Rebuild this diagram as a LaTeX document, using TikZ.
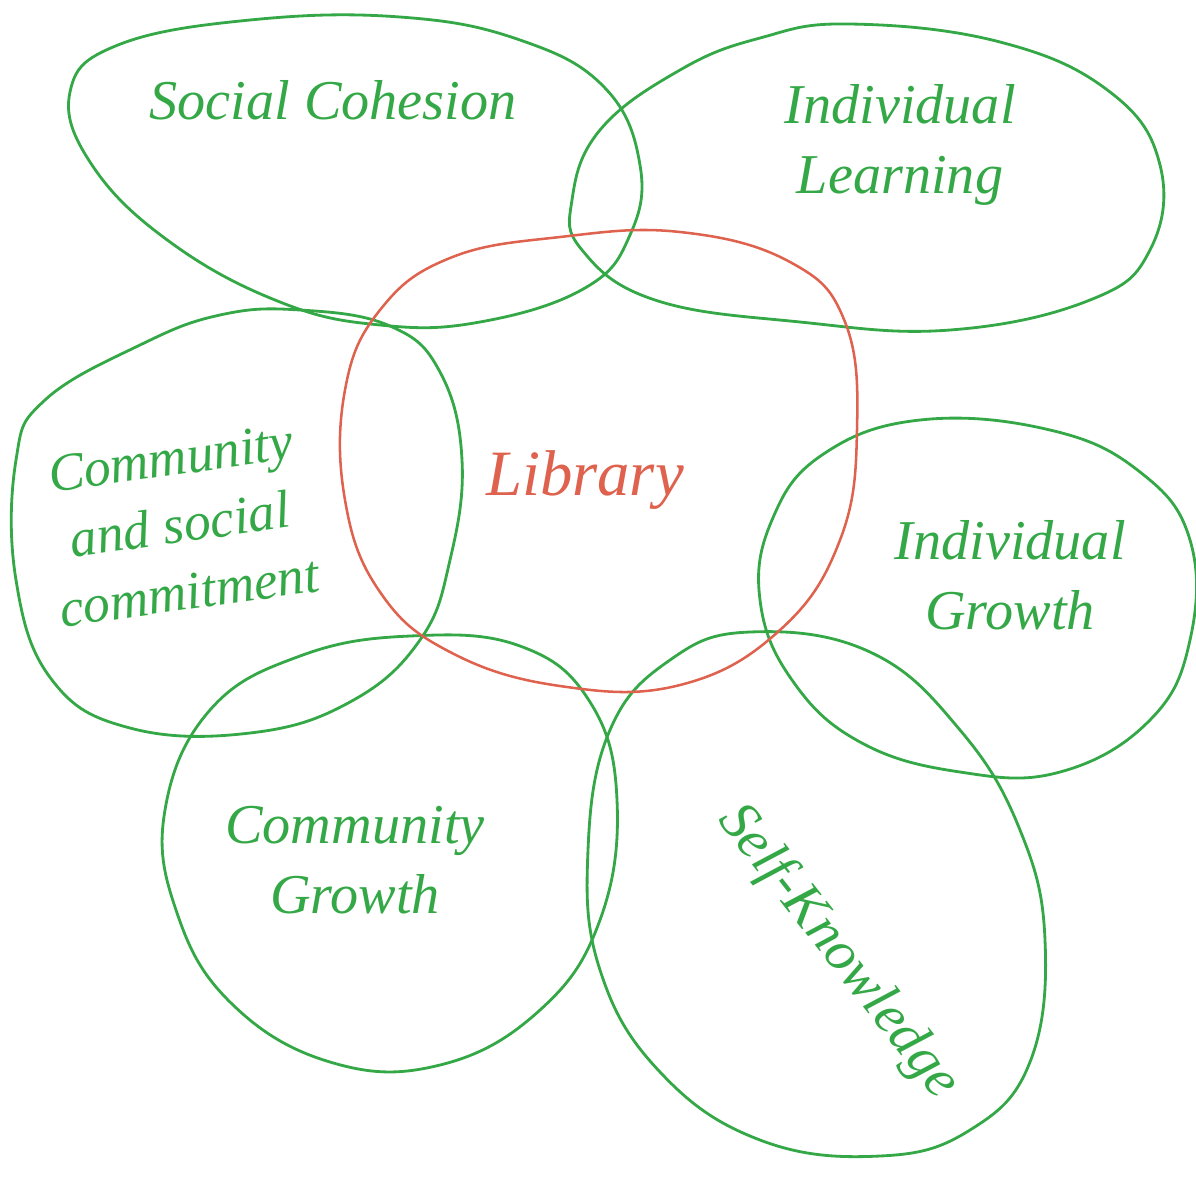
\documentclass[tikz,border=0pt]{standalone}
\usepackage{fontspec}
\setmainfont{Liberation Serif}
\definecolor{pen}{RGB}{52,168,70}
\definecolor{redpen}{RGB}{222,98,78}
\tikzset{
  blob/.style={draw=pen, line width=2pt, line join=round},
  redblob/.style={draw=redpen, line width=1.8pt, line join=round},
  lbl/.style={text=pen, font=\fontsize{40}{50}\selectfont\itshape, align=center, inner sep=0pt},
  smalllbl/.style={text=pen, font=\fontsize{38}{48}\selectfont\itshape, align=center, inner sep=0pt},
}
\begin{document}
\begin{tikzpicture}[x=0.025cm, y=-0.025cm]
\useasboundingbox (0,0) rectangle (1196,1186);
% Social Cohesion
\draw[blob] plot[smooth cycle, tension=0.7] coordinates {(400,17) (520,40) (605,88) (640,165) (630,235) (585,288) (480,322) (380,325) (280,302) (170,242) (92,165) (70,92) (118,45) (250,20)};
% Individual Learning
\draw[blob] plot[smooth cycle, tension=0.7] coordinates {(850,24) (1000,42) (1110,92) (1160,165) (1150,250) (1090,300) (950,330) (800,322) (655,300) (582,250) (572,200) (600,130) (680,70) (760,38)};
% Community and social commitment
\draw[blob] plot[smooth cycle, tension=0.7] coordinates {(300,310) (390,326) (440,372) (462,460) (450,560) (420,640) (350,702) (250,733) (130,728) (52,680) (16,580) (16,460) (45,400) (140,345) (220,315)};
% Individual Growth
\draw[blob] plot[smooth cycle, tension=0.7] coordinates {(920,420) (1050,430) (1140,472) (1190,540) (1190,640) (1150,720) (1060,772) (960,772) (860,742) (792,680) (760,600) (772,520) (822,455)};
% Community Growth
\draw[blob] plot[smooth cycle, tension=0.7] coordinates {(410,636) (520,646) (590,702) (617,800) (600,920) (540,1010) (440,1065) (330,1062) (230,1002) (176,910) (165,810) (210,710) (300,656)};
% Self-Knowledge
\draw[blob] plot[smooth cycle, tension=0.7] coordinates {(750,632) (870,652) (960,730) (1020,830) (1045,940) (1030,1062) (970,1130) (880,1156) (760,1140) (660,1072) (600,970) (588,850) (610,730) (670,660)};
% Library
\draw[redblob] plot[smooth cycle, tension=0.7] coordinates {(680,232) (790,262) (845,322) (857,430) (840,540) (780,630) (680,685) (560,686) (450,652) (380,592) (345,500) (345,390) (380,310) (450,258) (560,237)};

\node[lbl] (sc) at (333,100) {Social Cohesion};
\node[lbl] (il) at (900,145) {Individual\\Learning};
\node[lbl, text=redpen, font=\fontsize{46}{56}\selectfont\itshape] (lib) at (585,480) {Library};
\node[smalllbl, rotate=8] (csc) at (180,525) {Community\\and social\\commitment};
\node[lbl] (ig) at (1010,575) {Individual\\Growth};
\node[lbl] (cg) at (355,860) {Community\\Growth};
\node[lbl, rotate=-52] (sk) at (838,952) {Self-Knowledge};
\end{tikzpicture}
\end{document}
